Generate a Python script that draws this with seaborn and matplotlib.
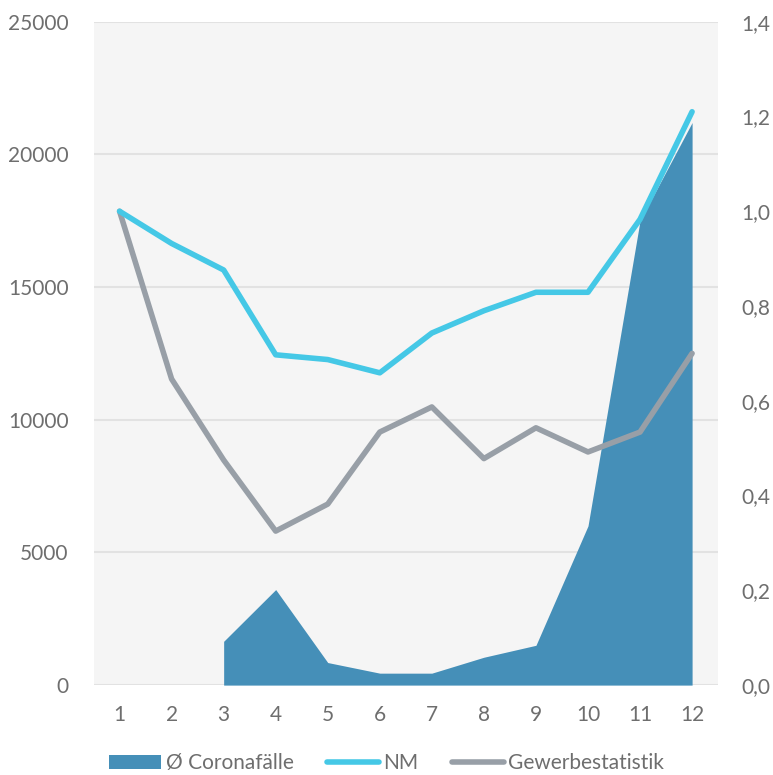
import numpy as np
import pandas as pd
import matplotlib
matplotlib.use("Agg")
import matplotlib.pyplot as plt
import seaborn as sns
from matplotlib.patches import Patch
from matplotlib.lines import Line2D
from matplotlib.ticker import FuncFormatter

# Chart data
months = list(range(1, 13))
corona_cases = [np.nan, np.nan, 1650, 3600, 850, 450, 450, 1050, 1500, 6000, 17500, 21200]
nm_index = [1.0, 0.932, 0.876, 0.697, 0.687, 0.659, 0.743, 0.790, 0.829, 0.829, 0.983, 1.210]
gewerbe_index = [1.0, 0.646, 0.475, 0.325, 0.382, 0.534, 0.587, 0.478, 0.543, 0.492, 0.534, 0.700]
left_ticks = [0, 5000, 10000, 15000, 20000, 25000]
right_ticks = [0.0, 0.2, 0.4, 0.6, 0.8, 1.0, 1.2, 1.4]

AREA_COLOR = "#458fb8"
NM_COLOR = "#45c8e6"
GEW_COLOR = "#989fa7"
TEXT_COLOR = "#6e6e6e"

sns.set_style("white", {"axes.facecolor": "#f5f5f5"})
plt.rcParams["font.family"] = ["Lato", "DejaVu Sans"]

df = pd.DataFrame({"month": months, "corona": corona_cases,
                   "nm": nm_index, "gewerbe": gewerbe_index})

fig = plt.figure(figsize=(7.73, 7.75), dpi=100)
ax = fig.add_axes([0.121, 0.116, 0.808, 0.856])

# area on the left axis
area = df.dropna(subset=["corona"])
ax.fill_between(area["month"], 0, area["corona"], color=AREA_COLOR, linewidth=0, zorder=2)
ax.set_xlim(0.5, 12.5)
ax.set_ylim(0, 25000)
ax.set_yticks(left_ticks)
ax.set_xticks(months)
ax.yaxis.grid(True, color="#e2e2e2", linewidth=1.5, zorder=0)
ax.set_axisbelow(True)
for s in ax.spines.values():
    s.set_visible(False)
ax.tick_params(length=0, labelsize=15, colors=TEXT_COLOR, pad=14)
ax.tick_params(axis="y", pad=18)

# lines on the right axis
ax2 = ax.twinx()
sns.lineplot(data=df, x="month", y="gewerbe", ax=ax2, color=GEW_COLOR, linewidth=4)
sns.lineplot(data=df, x="month", y="nm", ax=ax2, color=NM_COLOR, linewidth=4)
ax2.set_ylim(0, 1.4)
ax2.set_yticks(right_ticks)
ax2.yaxis.set_major_formatter(FuncFormatter(lambda v, p: f"{v:.1f}".replace(".", ",")))
for s in ax2.spines.values():
    s.set_visible(False)
ax2.tick_params(length=0, labelsize=15, colors=TEXT_COLOR, pad=17)
ax.set_xlabel("")
ax.set_ylabel("")
ax2.set_xlabel("")
ax2.set_ylabel("")

handles = [Patch(facecolor=AREA_COLOR, edgecolor="none"),
           Line2D([0], [0], color=NM_COLOR, linewidth=4, solid_capstyle="round"),
           Line2D([0], [0], color=GEW_COLOR, linewidth=4, solid_capstyle="round")]
labels = ["Ø Coronafälle", "NM", "Gewerbestatistik"]
fig.legend(handles, labels, loc="lower center", bbox_to_anchor=(0.5, -0.022), ncol=3,
           frameon=False, fontsize=15, handlelength=2.5, handletextpad=0.2,
           columnspacing=1.6, labelcolor=TEXT_COLOR)

fig.savefig("out.png", dpi=100, facecolor="white")
